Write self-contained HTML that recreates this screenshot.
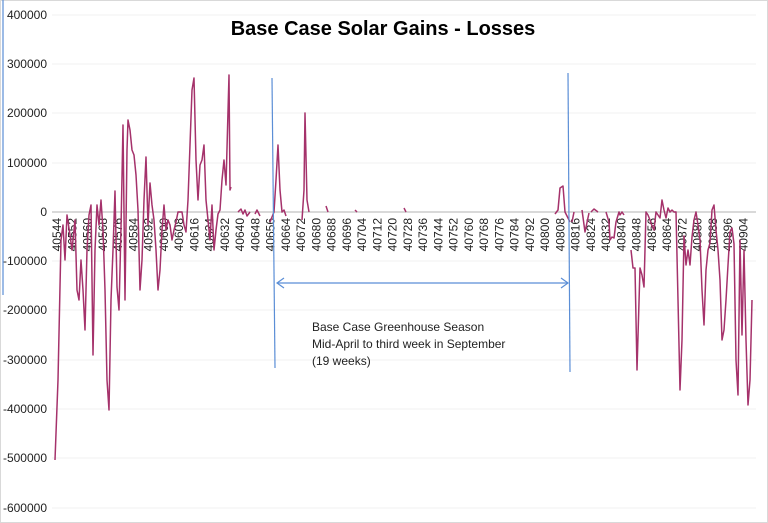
<!DOCTYPE html>
<html><head><meta charset="utf-8"><style>
body{margin:0;background:#fff}
svg{display:block;font-family:"Liberation Sans",sans-serif}
</style></head><body>
<svg width="768" height="523" viewBox="0 0 768 523">
<rect x="0.5" y="0.5" width="767" height="522" fill="#fff" stroke="#d9d9d9"/>
<g stroke="#f0f0f0" stroke-width="1">
<line x1="52" x2="756" y1="15" y2="15"/><line x1="52" x2="756" y1="64" y2="64"/><line x1="52" x2="756" y1="113" y2="113"/><line x1="52" x2="756" y1="163" y2="163"/><line x1="52" x2="756" y1="261" y2="261"/><line x1="52" x2="756" y1="310" y2="310"/><line x1="52" x2="756" y1="360" y2="360"/><line x1="52" x2="756" y1="409" y2="409"/><line x1="52" x2="756" y1="458" y2="458"/><line x1="52" x2="756" y1="508" y2="508"/>
</g>
<line x1="52" x2="756" y1="212" y2="212" stroke="#d9d9d9" stroke-width="2"/>
<g font-size="12" fill="#222" text-anchor="end">
<text x="47" y="19">400000</text><text x="47" y="68">300000</text><text x="47" y="117">200000</text><text x="47" y="167">100000</text><text x="47" y="216">0</text><text x="47" y="265">-100000</text><text x="47" y="314">-200000</text><text x="47" y="364">-300000</text><text x="47" y="413">-400000</text><text x="47" y="462">-500000</text><text x="47" y="512">-600000</text>
</g>
<text x="383" y="35" font-size="20" font-weight="bold" text-anchor="middle" fill="#000">Base Case Solar Gains - Losses</text>
<g font-size="12" fill="#222" text-anchor="end">
<text transform="translate(61,218) rotate(-90)">40544</text>
<text transform="translate(76.3,218) rotate(-90)">40552</text>
<text transform="translate(91.5,218) rotate(-90)">40560</text>
<text transform="translate(106.8,218) rotate(-90)">40568</text>
<text transform="translate(122,218) rotate(-90)">40576</text>
<text transform="translate(137.3,218) rotate(-90)">40584</text>
<text transform="translate(152.5,218) rotate(-90)">40592</text>
<text transform="translate(167.8,218) rotate(-90)">40600</text>
<text transform="translate(183,218) rotate(-90)">40608</text>
<text transform="translate(198.3,218) rotate(-90)">40616</text>
<text transform="translate(213.5,218) rotate(-90)">40624</text>
<text transform="translate(228.8,218) rotate(-90)">40632</text>
<text transform="translate(244,218) rotate(-90)">40640</text>
<text transform="translate(259.3,218) rotate(-90)">40648</text>
<text transform="translate(274.5,218) rotate(-90)">40656</text>
<text transform="translate(289.8,218) rotate(-90)">40664</text>
<text transform="translate(305,218) rotate(-90)">40672</text>
<text transform="translate(320.3,218) rotate(-90)">40680</text>
<text transform="translate(335.5,218) rotate(-90)">40688</text>
<text transform="translate(350.8,218) rotate(-90)">40696</text>
<text transform="translate(366,218) rotate(-90)">40704</text>
<text transform="translate(381.3,218) rotate(-90)">40712</text>
<text transform="translate(396.5,218) rotate(-90)">40720</text>
<text transform="translate(411.8,218) rotate(-90)">40728</text>
<text transform="translate(427,218) rotate(-90)">40736</text>
<text transform="translate(442.3,218) rotate(-90)">40744</text>
<text transform="translate(457.5,218) rotate(-90)">40752</text>
<text transform="translate(472.8,218) rotate(-90)">40760</text>
<text transform="translate(488,218) rotate(-90)">40768</text>
<text transform="translate(503.3,218) rotate(-90)">40776</text>
<text transform="translate(518.5,218) rotate(-90)">40784</text>
<text transform="translate(533.8,218) rotate(-90)">40792</text>
<text transform="translate(549,218) rotate(-90)">40800</text>
<text transform="translate(564.3,218) rotate(-90)">40808</text>
<text transform="translate(579.5,218) rotate(-90)">40816</text>
<text transform="translate(594.8,218) rotate(-90)">40824</text>
<text transform="translate(610,218) rotate(-90)">40832</text>
<text transform="translate(625.3,218) rotate(-90)">40840</text>
<text transform="translate(640.5,218) rotate(-90)">40848</text>
<text transform="translate(655.8,218) rotate(-90)">40856</text>
<text transform="translate(671,218) rotate(-90)">40864</text>
<text transform="translate(686.3,218) rotate(-90)">40872</text>
<text transform="translate(701.5,218) rotate(-90)">40880</text>
<text transform="translate(716.8,218) rotate(-90)">40888</text>
<text transform="translate(732,218) rotate(-90)">40896</text>
<text transform="translate(747.3,218) rotate(-90)">40904</text>
</g>
<g fill="none" stroke="#a5326b" stroke-width="1.5" stroke-linejoin="round">
<polyline points="55,460 58,380 61,240 63,225 65,260 67,215 70,235 72,250 75,220 77,290 79,300 81,260 83,290 85,330 87,250 89,215 91,205 93,355 95,250 97,205 99,225 101,200 103,230 105,290 107,380 109,410 111,300 113,250 115,191 117,287 119,310 121,228 123,125 125,300 127,150 128,120 130,130 132,150 134,155 136,175 138,210 140,290 142,260 144,200 146,157 148,225 150,183 152,205 154,220 156,250 158,290 160,270 162,230 164,205 166,230 168,220 170,225 172,240 174,230 176,222 178,212 180,212 182,212 184,225 186,232 188,200 190,145 192,90 194,78 196,160 198,200 200,165 202,160 204,145 206,200 208,220 210,240 212,205 214,250 216,230 218,214 220,210 222,180 224,160 226,185 229,75 230,190 231,187"/>
<polyline points="238,212 241,209 243,214 245,210 247,216 250,212"/>
<polyline points="255,214 257,210 260,216"/>
<polyline points="270,222 274,212 276,180 278,145 280,190 282,212 284,210 286,216"/>
<polyline points="302,220 304,190 305,113 307,200 309,212"/>
<polyline points="326,206 328,212"/><polyline points="355,210 357,212"/><polyline points="404,208 406,212"/>
<polyline points="555,214 558,210 560,188 563,186 565,212 570,222"/>
<polyline points="572,222 574,212"/><polyline points="582,210 585,232 589,213"/><polyline points="591,212 594,209 598,212"/>
<polyline points="606,212 609,222 610,240 612,237 614,238 616,222 619,212 620,215 622,212 624,215"/>
<polyline points="631,250 633,268 635,268 637,370 640,268 642,275 644,287 646,212 648,215 650,220 652,226 654,230 656,212 658,215 660,218 662,200 664,210 666,218 668,208 670,212 672,210 674,212 676,212 678,300 680,390 682,340 684,236 686,265 688,250 690,265 692,237 694,220 696,212 698,225 700,240 702,290 704,325 706,270 708,250 710,243 712,210 714,205 716,230 718,250 720,280 722,340 724,330 726,300 728,265 730,232 732,228 734,244 736,360 738,395 740,240 742,335 744,250 746,340 748,405 750,380 752,300"/>
</g>
<g stroke="#5b8ed6" stroke-width="1.2" fill="none">
<line x1="3" y1="0" x2="3" y2="295"/>
<line x1="272" y1="78" x2="275" y2="368"/>
<line x1="568" y1="73" x2="570" y2="372"/>
<line x1="277" y1="283" x2="568" y2="283"/>
<polyline points="284,278 277,283 284,288"/><polyline points="561,278 568,283 561,288"/>
</g>
<g font-size="12" fill="#222">
<text x="312" y="331">Base Case Greenhouse Season</text>
<text x="312" y="348">Mid-April to third week in September</text>
<text x="312" y="365">(19 weeks)</text>
</g>
</svg>
</body></html>
